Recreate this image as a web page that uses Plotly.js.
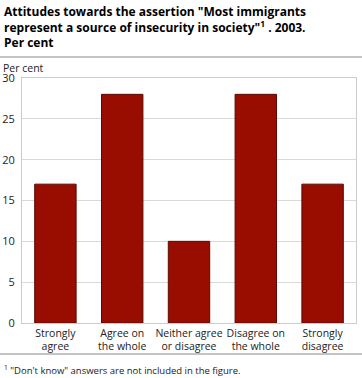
<!DOCTYPE html>
<html><head><meta charset="utf-8">
<script src="https://cdn.plot.ly/plotly-3.0.1.min.js"></script>
<style>body{margin:0;padding:0;background:#fff}#c{width:362px;height:378px}</style>
</head><body><div id="c"></div>
<script>
const categories = ["Strongly<br>agree","Agree on<br>the whole","Neither agree<br>or disagree","Disagree on<br>the whole","Strongly<br>disagree"];
const values = [17, 28, 10, 28, 17];
const yTicks = [0,5,10,15,20,25,30];

const W=362,H=378,L=22,R=6,T=78,B=55;
const pw=W-L-R, ph=H-T-B;
const pyTop = y => 1+(T-y)/ph;

const font = "'Open Sans', 'DejaVu Sans', sans-serif";
Plotly.newPlot('c',[{
  type:'bar', x:categories, y:values,
  marker:{color:'#990c00', line:{color:'#5a0a00', width:1}},
  hoverinfo:'none'
}],{
  width:W,height:H,
  margin:{l:L,r:R,t:T,b:B,pad:0},
  paper_bgcolor:'#fff',plot_bgcolor:'#fff',
  bargap:0.38,
  showlegend:false,
  font:{family:font,size:11,color:'#222'},
  xaxis:{showgrid:false,zeroline:false,showline:true,linecolor:'#ccc',mirror:true,ticks:'',tickangle:0,tickfont:{size:10.5,color:'#222'}},
  yaxis:{range:[0,30],tickvals:yTicks,showgrid:true,gridcolor:'#d9d9d9',zeroline:false,showline:true,linecolor:'#ccc',mirror:true,ticks:'',tickfont:{size:11,color:'#222'},ticklabelstandoff:4},
  shapes:[
    {type:'line',xref:'paper',yref:'paper',x0:-L/pw,x1:(W-L)/pw,y0:pyTop(57),y1:pyTop(57),line:{color:'#888',width:1}},
    {type:'line',xref:'paper',yref:'paper',x0:-L/pw,x1:(W-L)/pw,y0:pyTop(354),y1:pyTop(354),line:{color:'#888',width:1}}
  ],
  annotations:[
    {xref:'paper',yref:'paper',x:-L/pw+2/pw,y:pyTop(1),xanchor:'left',yanchor:'top',align:'left',showarrow:false,
     text:'<b>Attitudes towards the assertion "Most immigrants<br>represent a source of insecurity in society"<sup>1</sup> . 2003.<br>Per cent</b>',
     font:{size:12,color:'#000',family:font}},
    {xref:'paper',yref:'paper',x:-L/pw+1/pw,y:pyTop(59),xanchor:'left',yanchor:'top',showarrow:false,text:'Per cent',font:{size:10.5,color:'#222'}},
    {xref:'paper',yref:'paper',x:-L/pw+2/pw,y:pyTop(361),xanchor:'left',yanchor:'top',showarrow:false,
     text:'<sup>1</sup> "Don\'t know" answers are not included in the figure.',font:{size:9.5,color:'#222'}}
  ]
},{staticPlot:true,displayModeBar:false});
</script></body></html>
